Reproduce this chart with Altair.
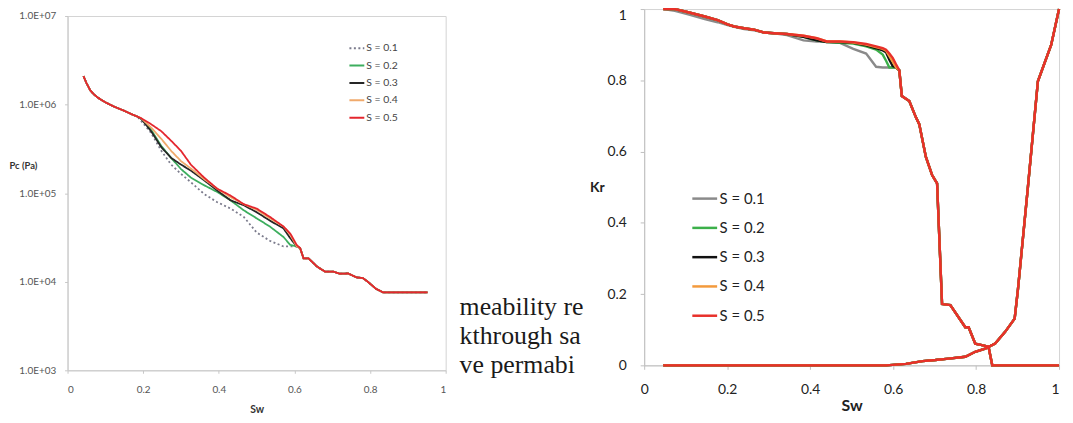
import altair as alt
import pandas as pd

SERIES = ["S = 0.1", "S = 0.2", "S = 0.3", "S = 0.4", "S = 0.5"]

# ---------------- Left chart: capillary pressure (log) ----------------
pc_head_sw = [0.042, 0.05, 0.06, 0.07, 0.081, 0.1, 0.125, 0.15, 0.169, 0.185]
pc_head = [2.1e6, 1.75e6, 1.45e6, 1.3e6, 1.19e6, 1.06e6, 9.4e5, 8.5e5, 7.8e5, 7.3e5]

pc_mid_sw = [0.195, 0.221, 0.248, 0.274, 0.30, 0.326, 0.361, 0.396, 0.431, 0.466,
             0.50, 0.535, 0.571, 0.589, 0.606]
pc_s01 = [6.5e5, 4.8e5, 3.0e5, 2.1e5, 1.65e5, 1.33e5, 9.8e4, 7.9e4, 6.7e4, 5.4e4,
          3.6e4, 2.9e4, 2.5e4, 2.5e4, 2.5e4]
pc_s02 = [6.9e5, 5.2e5, 3.4e5, 2.5e5, 1.87e5, 1.5e5, 1.23e5, 1.03e5, 8.3e4, 6.4e4,
          5.2e4, 4.2e4, 3.2e4, 2.6e4, 2.5e4]
pc_s03 = [6.9e5, 5.0e5, 3.3e5, 2.5e5, 2.1e5, 1.8e5, 1.4e5, 1.07e5, 8.3e4, 7.3e4,
          6.1e4, 4.9e4, 4.0e4, 3.1e4, 2.5e4]
pc_s04 = [7.0e5, 5.5e5, 4.1e5, 3.0e5, 2.3e5, 1.9e5, 1.44e5, 1.12e5, 9.0e4, 7.5e4,
          6.5e4, 5.2e4, 4.2e4, 3.4e4, 2.5e4]
pc_s05 = [7.0e5, 6.0e5, 5.0e5, 3.9e5, 3.0e5, 2.1e5, 1.5e5, 1.12e5, 9.4e4, 7.5e4,
          6.7e4, 5.4e4, 4.2e4, 3.5e4, 2.6e4]

pc_tail_sw = [0.615, 0.624, 0.637, 0.66, 0.681, 0.703, 0.72, 0.742, 0.764, 0.781,
              0.794, 0.816, 0.834, 0.86, 0.9, 0.952]
pc_tail = [2.4e4, 1.84e4, 1.84e4, 1.48e4, 1.3e4, 1.3e4, 1.23e4, 1.24e4, 1.12e4, 1.1e4,
           1.0e4, 8.3e3, 7.6e3, 7.6e3, 7.6e3, 7.6e3]

pc_mid = [pc_s01, pc_s02, pc_s03, pc_s04, pc_s05]
pc_colors = ["#7b7b8c", "#3dae5e", "#262626", "#f0aa6c", "#e4262e"]

# ---------------- Right chart: relative permeability ----------------
krn_head_sw = [0.046, 0.074, 0.106, 0.146, 0.177, 0.201, 0.217, 0.241, 0.265, 0.289, 0.313, 0.344]
krn_head = [1.0, 1.0, 0.991, 0.979, 0.969, 0.957, 0.951, 0.946, 0.942, 0.934, 0.932, 0.930]
krn_head_s01 = [1.0, 0.995, 0.985, 0.972, 0.963, 0.955, 0.950, 0.944, 0.940, 0.934, 0.932, 0.927]

krn_mid_sw = [0.384, 0.416, 0.44, 0.472, 0.504, 0.535, 0.559, 0.575, 0.583, 0.591, 0.599, 0.607]
krn_s01 = [0.912, 0.909, 0.909, 0.905, 0.888, 0.875, 0.838, 0.836, 0.836, 0.836, 0.836, 0.836]
krn_s02 = [0.922, 0.912, 0.907, 0.905, 0.903, 0.895, 0.886, 0.872, 0.855, 0.836, 0.836, 0.836]
krn_s03 = [0.922, 0.912, 0.907, 0.907, 0.905, 0.898, 0.890, 0.884, 0.879, 0.858, 0.840, 0.836]
krn_s04 = [0.925, 0.918, 0.909, 0.909, 0.906, 0.900, 0.893, 0.888, 0.883, 0.868, 0.852, 0.836]
krn_s05 = [0.925, 0.918, 0.909, 0.909, 0.907, 0.902, 0.895, 0.890, 0.886, 0.875, 0.863, 0.845]

krn_tail_sw = [0.615, 0.621, 0.639, 0.655, 0.663, 0.679, 0.694, 0.706, 0.718, 0.738,
               0.774, 0.782, 0.798, 0.814, 0.83, 0.839, 1.0]
krn_tail = [0.828, 0.756, 0.742, 0.696, 0.677, 0.585, 0.534, 0.511, 0.172, 0.169,
            0.107, 0.107, 0.061, 0.057, 0.052, 0.0, 0.0]

krw_sw = [0.046, 0.583, 0.631, 0.671, 0.702, 0.734, 0.774, 0.798, 0.822, 0.846,
          0.87, 0.893, 0.901, 0.925, 0.949, 0.981, 1.0]
krw = [0.0, 0.0, 0.004, 0.012, 0.015, 0.019, 0.024, 0.038, 0.047, 0.061,
       0.094, 0.131, 0.214, 0.501, 0.797, 0.899, 1.0]

krn_mid = [krn_s01, krn_s02, krn_s03, krn_s04, krn_s05]
kr_colors = ["#8a8a8a", "#3cb04a", "#111111", "#f39a3c", "#e8302a"]

# Text fragments of the surrounding page
fragments = ["meability re", "kthrough sa", "ve permabi"]

# ---------------- Build tables ----------------
pc_rows = []
for i, s in enumerate(SERIES):
    sw = pc_head_sw + pc_mid_sw + pc_tail_sw
    pc = pc_head + pc_mid[i] + pc_tail
    for a, b in zip(sw, pc):
        pc_rows.append({"S": s, "Sw": a, "Pc": b})
pc_df = pd.DataFrame(pc_rows)

kr_rows = []
for i, s in enumerate(SERIES):
    head = krn_head_s01 if i == 0 else krn_head
    sw = krn_head_sw + krn_mid_sw + krn_tail_sw
    kr = head + krn_mid[i] + krn_tail
    for a, b in zip(sw, kr):
        kr_rows.append({"S": s, "branch": "krn", "Sw": a, "Kr": b})
    for a, b in zip(krw_sw, krw):
        kr_rows.append({"S": s, "branch": "krw", "Sw": a, "Kr": b})
kr_df = pd.DataFrame(kr_rows)

FONT = "Lato"
XVALS = [0, 0.2, 0.4, 0.6, 0.8, 1]
LBL01 = "datum.value == 0 ? '0' : datum.value == 1 ? '1' : format(datum.value, '.1f')"

pc_legend = alt.Legend(title=None, orient="none", legendX=283, legendY=31,
                       symbolType="stroke", symbolSize=225, symbolStrokeWidth=2,
                       labelFont=FONT, labelFontSize=10.5, labelColor="#444444",
                       labelOffset=1, rowPadding=3.5, padding=0)

# ---------------- Left chart ----------------
pc_lines = alt.Chart(pc_df).mark_line(strokeWidth=1.8, strokeCap="butt").encode(
    x=alt.X("Sw:Q", scale=alt.Scale(domain=[0, 1], nice=False),
            axis=alt.Axis(values=XVALS, labelExpr=LBL01, grid=False,
                          domainColor="#c8c8c8", tickColor="#c8c8c8", tickSize=3,
                          labelFont=FONT, labelFontSize=10, labelColor="#555555",
                          labelPadding=11, title="Sw", titleFont=FONT, titleFontSize=10.5,
                          titleFontWeight="bold", titleColor="#333333",
                          titleY=40, titleBaseline="middle")),
    y=alt.Y("Pc:Q", scale=alt.Scale(type="log", domain=[1e3, 1e7], nice=False),
            axis=alt.Axis(values=[1e3, 1e4, 1e5, 1e6, 1e7],
                          labelExpr="'1.0E+0' + round(log(datum.value) / LN10)",
                          grid=False, domainColor="#c8c8c8", tickColor="#c8c8c8", tickSize=3,
                          labelFont=FONT, labelFontSize=10, labelColor="#555555",
                          labelPadding=9, title="Pc (Pa)", titleAngle=0, titleAlign="left",
                          titleBaseline="middle", titleX=-59, titleY=151, titleFont=FONT,
                          titleFontSize=9.5, titleFontWeight="bold", titleColor="#333333")),
    color=alt.Color("S:N", scale=alt.Scale(domain=SERIES, range=pc_colors), legend=pc_legend),
    strokeDash=alt.StrokeDash("S:N", scale=alt.Scale(
        domain=SERIES, range=[[2, 2.5], [1, 0], [1, 0], [1, 0], [1, 0]]), legend=pc_legend),
)

left = pc_lines.properties(
    width=381, height=357,
    view=alt.ViewBackground(stroke="#d4d4d4", strokeWidth=1),
)

# thin empty strip above the left panel so it sits a little lower than the right one
spacer = alt.Chart(pd.DataFrame({"v": [0]})).mark_point(opacity=0, size=1).encode(
    x=alt.value(0), y=alt.value(0.5)
).properties(width=381, height=1)

left_col = alt.vconcat(spacer, left, spacing=0)

# ---------------- Right chart ----------------
kr_lines = alt.Chart(kr_df).mark_line(strokeWidth=2.4).encode(
    x=alt.X("Sw:Q", scale=alt.Scale(domain=[0, 1], nice=False),
            axis=alt.Axis(values=XVALS, labelExpr=LBL01, grid=False,
                          labelAlign={"expr": "datum.value == 1 ? 'right' : 'center'"},
                          domainColor="#bfbfbf", tickColor="#bfbfbf", tickSize=4,
                          labelFont=FONT, labelFontSize=14, labelColor="#222222",
                          labelPadding=13, title="Sw", titleFont=FONT, titleFontSize=16,
                          titleFontWeight="bold", titleColor="#222222",
                          titleY=41, titleBaseline="middle")),
    y=alt.Y("Kr:Q", scale=alt.Scale(domain=[0, 1], nice=False),
            axis=alt.Axis(values=XVALS, labelExpr=LBL01, grid=False,
                          labelBaseline={"expr": "datum.value == 1 ? 'top' : 'middle'"},
                          domainColor="#bfbfbf", tickColor="#bfbfbf", tickSize=4,
                          labelFont=FONT, labelFontSize=14, labelColor="#222222",
                          labelPadding=14, title="Kr", titleAngle=0, titleAlign="left",
                          titleBaseline="middle", titleX=-55, titleY=179.5, titleFont=FONT,
                          titleFontSize=14, titleFontWeight="bold", titleColor="#222222")),
    color=alt.Color("S:N", scale=alt.Scale(domain=SERIES, range=kr_colors),
                    legend=alt.Legend(title=None, orient="none", legendX=47, legendY=177,
                                      symbolType="stroke", symbolSize=625, symbolStrokeWidth=2.5,
                                      labelFont=FONT, labelFontSize=15, labelColor="#222222",
                                      labelOffset=1, rowPadding=7.5, padding=0)),
    detail="branch:N",
)

frag_layers = []
for j, t in enumerate(fragments):
    frag_layers.append(
        alt.Chart(pd.DataFrame({"t": [t]})).mark_text(
            font="Liberation Serif", fontSize=26, align="left", baseline="alphabetic",
            color="#1a1a1a").encode(text="t:N", x=alt.value(-186), y=alt.value(308 + 29.3 * j))
    )

right = alt.layer(kr_lines, *frag_layers).properties(
    width=418, height=359,
    view=alt.ViewBackground(stroke="#d4d4d4", strokeWidth=1),
)

chart = alt.hconcat(left_col, right, spacing=12).resolve_scale(
    color="independent", strokeDash="independent"
).properties(
    padding={"left": 0, "top": -6.5, "right": 0, "bottom": 0}
).configure_view(strokeWidth=0)

chart.save("out.html", embed_options={"renderer": "svg", "actions": False})
